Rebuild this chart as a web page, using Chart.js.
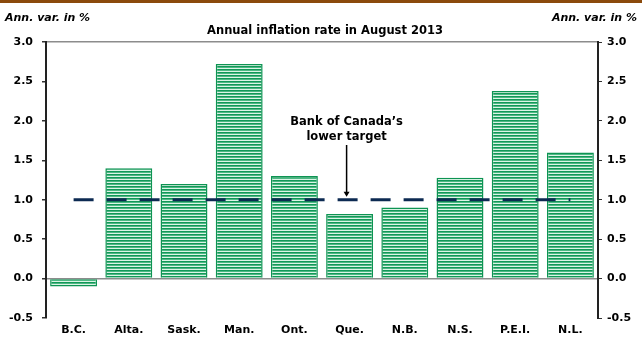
<!DOCTYPE html>
<html>
<head>
<meta charset="utf-8">
<script src="https://cdn.jsdelivr.net/npm/chart.js@4/dist/chart.umd.min.js"></script>
<style>
  html, body { margin: 0; padding: 0; background: #fff; }
  #wrap { width: 642px; height: 341px; position: relative; }
</style>
</head>
<body>
<div id="wrap"><canvas id="c" width="642" height="341"></canvas></div>
<script>
// Provinces and their annual CPI change (%), August 2013
const provinces = ['B.C.', 'Alta.', 'Sask.', 'Man.', 'Ont.', 'Que.', 'N.B.', 'N.S.', 'P.E.I.', 'N.L.'];
const inflation = [-0.1, 1.4, 1.2, 2.72, 1.3, 0.82, 0.9, 1.28, 2.38, 1.6];
// Bank of Canada's lower inflation-control target
const lowerTarget = provinces.map(() => 1.0);
const yTicks = [-0.5, 0.0, 0.5, 1.0, 1.5, 2.0, 2.5, 3.0];

const FONT = '"DejaVu Sans", "Liberation Sans", Arial, sans-serif';

// Horizontal striped fill for the bars
function stripePattern(ctx) {
  const p = document.createElement('canvas');
  p.width = 4; p.height = 3;
  const g = p.getContext('2d');
  g.fillStyle = '#dcf4e6';
  g.fillRect(0, 0, 4, 3);
  g.fillStyle = '#129858';
  g.fillRect(0, 0, 4, 1);
  g.fillStyle = '#4db884';
  g.fillRect(0, 1, 4, 1);
  return ctx.createPattern(p, 'repeat');
}

const ctx = document.getElementById('c').getContext('2d');

const header = {
  id: 'header',
  beforeDraw(chart) {
    const c = chart.ctx;
    c.save();
    c.fillStyle = '#fff';
    c.fillRect(0, 0, chart.width, chart.height);
    c.fillStyle = '#8b4a0c';
    c.fillRect(0, 0, chart.width, 3);
    c.fillStyle = '#000';
    c.font = 'italic bold 11px ' + FONT;
    c.textBaseline = 'middle';
    c.textAlign = 'left';
    c.fillText('Ann. var. in %', 5, 18);
    c.textAlign = 'right';
    c.fillText('Ann. var. in %', 637, 18);
    c.font = 'bold 11.5px ' + FONT;
    c.textAlign = 'center';
    c.fillText('Annual inflation rate in August 2013', 325, 31);
    c.restore();
  },
  afterDatasetsDraw(chart) {
    const c = chart.ctx;
    const x = chart.scales.x.getPixelForValue(5) - 3;
    const yLine = chart.scales.y.getPixelForValue(1.0);
    c.save();
    c.fillStyle = '#000';
    c.font = 'bold 11.5px ' + FONT;
    c.textAlign = 'center';
    c.textBaseline = 'middle';
    c.fillText('Bank of Canada\u2019s', x, 122);
    c.fillText('lower target', x, 137);
    c.strokeStyle = '#000';
    c.lineWidth = 1.5;
    c.beginPath();
    c.moveTo(x, 145);
    c.lineTo(x, yLine - 5);
    c.stroke();
    c.beginPath();
    c.moveTo(x - 3, yLine - 8);
    c.lineTo(x + 3, yLine - 8);
    c.lineTo(x, yLine - 3);
    c.closePath();
    c.fill();
    c.restore();
  }
};

new Chart(ctx, {
  data: {
    labels: provinces,
    datasets: [
      {
        type: 'line',
        data: lowerTarget,
        borderColor: '#0c2a52',
        borderWidth: 3,
        borderDash: [20, 13],
        pointRadius: 0,
        fill: false,
        order: 0
      },
      {
        type: 'bar',
        data: inflation,
        backgroundColor: stripePattern(ctx),
        borderColor: '#0e9453',
        borderWidth: 1.5,
        barPercentage: 0.85,
        categoryPercentage: 1.0,
        order: 1
      }
    ]
  },
  options: {
    responsive: false,
    animation: false,
    devicePixelRatio: 1,
    layout: { padding: { top: 42, bottom: 0, left: 0, right: 0 } },
    plugins: { legend: { display: false }, tooltip: { enabled: false }, title: { display: false } },
    scales: {
      x: {
        offset: true,
        grid: { display: false, drawTicks: false },
        border: { display: false },
        ticks: { color: '#000', font: { family: FONT, size: 11, weight: 'bold' }, padding: 6 },
        afterFit(s) { s.height = 23; }
      },
      y: {
        position: 'left',
        min: -0.5, max: 3.0,
        afterBuildTicks(s) { s.ticks = yTicks.map(v => ({ value: v })); },
        grid: {
          color: c => (c.tick && (c.tick.value === 0 || c.tick.value === 3)) ? '#8c8c8c' : 'rgba(0,0,0,0)',
          lineWidth: 1.5,
          tickColor: '#333',
          tickLength: 4,
          drawTicks: true
        },
        border: { display: true, color: '#222', width: 2 },
        ticks: { color: '#000', font: { family: FONT, size: 11, weight: 'bold' }, padding: 9, callback: v => v.toFixed(1) },
        afterFit(s) { s.width = 46; }
      },
      y2: {
        position: 'right',
        min: -0.5, max: 3.0,
        afterBuildTicks(s) { s.ticks = yTicks.map(v => ({ value: v })); },
        grid: { drawOnChartArea: false, tickColor: '#333', tickLength: 4 },
        border: { display: true, color: '#222', width: 2 },
        ticks: { color: '#000', font: { family: FONT, size: 11, weight: 'bold' }, padding: 5, callback: v => v.toFixed(1) },
        afterFit(s) { s.width = 44; }
      }
    }
  },
  plugins: [header]
});
</script>
</body>
</html>
